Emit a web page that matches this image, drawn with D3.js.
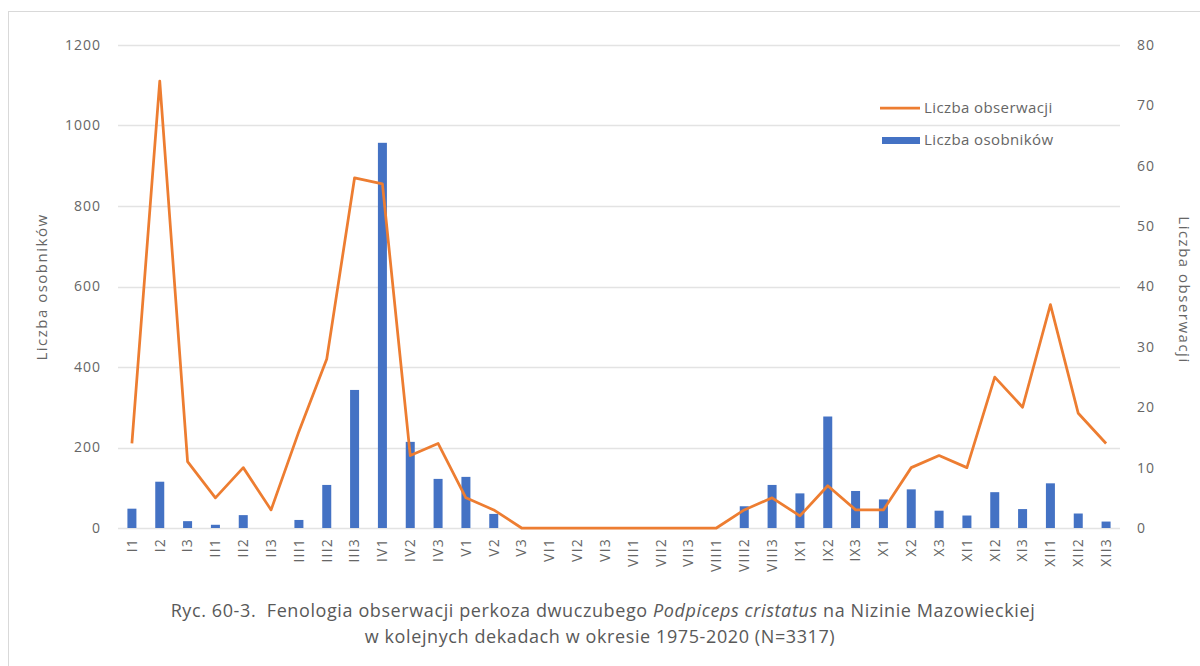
<!DOCTYPE html>
<html lang="pl">
<head>
  <meta charset="utf-8">
  <title>Fenologia perkoza dwuczubego</title>
  <script src="https://d3js.org/d3.v7.min.js"></script>
  <style>
    body { margin: 0; background: #fff; }
    text { font-family: "Open Sans", "Noto Sans", sans-serif; fill: #666; }
  </style>
</head>
<body>
<script>
// dekady miesiecy
var dekady = ['I1','I2','I3','II1','II2','II3','III1','III2','III3','IV1','IV2','IV3',
  'V1','V2','V3','VI1','VI2','VI3','VII1','VII2','VII3','VIII1','VIII2','VIII3',
  'IX1','IX2','IX3','X1','X2','X3','XI1','XI2','XI3','XII1','XII2','XII3'];

// liczba osobnikow (slupki, lewa os)
var osobniki = [48,115,17,8,32,0,20,107,343,957,214,122,
  127,35,0,0,0,0,0,0,0,0,54,107,
  86,277,92,71,96,43,31,89,47,111,36,16];

// liczba obserwacji (linia, prawa os)
var obserwacje = [14,74,11,5,10,3,16,28,58,57,12,14,
  5,3,0,0,0,0,0,0,0,0,3,5,
  2,7,3,3,10,12,10,25,20,37,19,14];

var leftTicks = [0,200,400,600,800,1000,1200];
var rightTicks = [0,10,20,30,40,50,60,70,80];

var W = 1200, H = 666;
// obszar wykresu
var pLeft = 118, pRight = 1120, pTop = 45, pBottom = 528;

var svg = d3.select('body').append('svg')
  .attr('width', W)
  .attr('height', H);

// ramka wykresu
svg.append('rect')
  .attr('x', 8.5).attr('y', 11.5)
  .attr('width', W + 10).attr('height', H + 10)
  .attr('fill', 'none')
  .attr('stroke', '#d9d9d9');

var x = d3.scaleBand().domain(dekady).range([pLeft, pRight]);
var yL = d3.scaleLinear().domain([0, 1200]).range([pBottom, pTop]);
var yR = d3.scaleLinear().domain([0, 80]).range([pBottom, pTop]);

// linie siatki
svg.selectAll('.grid')
  .data(leftTicks)
  .enter()
  .append('line')
  .attr('x1', pLeft).attr('x2', pRight)
  .attr('y1', function(d) { return Math.round(yL(d)) + 0.5; })
  .attr('y2', function(d) { return Math.round(yL(d)) + 0.5; })
  .attr('stroke', '#e3e3e3')
  .attr('stroke-width', 1.5);

// osie
var axL = svg.append('g')
  .attr('transform', 'translate(' + (pLeft - 17) + ',0)')
  .call(d3.axisLeft(yL).tickValues(leftTicks).tickFormat(d3.format('d')).tickSize(0).tickPadding(0));
var axR = svg.append('g')
  .attr('transform', 'translate(' + (pRight + 17) + ',0)')
  .call(d3.axisRight(yR).tickValues(rightTicks).tickFormat(d3.format('d')).tickSize(0).tickPadding(0));
var axX = svg.append('g')
  .attr('transform', 'translate(0,' + (pBottom + 10) + ')')
  .call(d3.axisBottom(x).tickSize(0).tickPadding(0));

[axL, axR, axX].forEach(function(a) {
  a.select('.domain').remove();
  a.selectAll('text')
    .style('font-family', '"Open Sans", sans-serif')
    .style('font-size', '14px')
    .style('letter-spacing', '1px')
    .attr('fill', '#6e6e6e');
});

axX.selectAll('text')
  .style('letter-spacing', '1.2px')
  .attr('transform', 'rotate(-90)')
  .attr('text-anchor', 'end')
  .attr('x', 0)
  .attr('y', 0)
  .attr('dy', '0.35em');

// slupki
svg.selectAll('.bar')
  .data(osobniki)
  .enter()
  .append('rect')
  .attr('x', function(d, i) { return x(dekady[i]) + x.bandwidth() / 2 - 4.5; })
  .attr('y', function(d) { return yL(d); })
  .attr('width', 9)
  .attr('height', function(d) { return pBottom - yL(d); })
  .attr('fill', '#4472c4');

// linia
var line = d3.line()
  .x(function(d, i) { return x(dekady[i]) + x.bandwidth() / 2; })
  .y(function(d) { return yR(d); });

svg.append('path')
  .datum(obserwacje)
  .attr('d', line)
  .attr('fill', 'none')
  .attr('stroke', '#ed7d31')
  .attr('stroke-width', 2.75)
  .attr('stroke-linejoin', 'round');

// tytuly osi
svg.append('text')
  .attr('transform', 'translate(42,287) rotate(-90)')
  .attr('text-anchor', 'middle')
  .attr('dy', '0.35em')
  .style('font-size', '15px')
  .style('letter-spacing', '1.5px')
  .text('Liczba osobników');

svg.append('text')
  .attr('transform', 'translate(1184,290) rotate(90)')
  .attr('text-anchor', 'middle')
  .attr('dy', '0.35em')
  .style('font-size', '15px')
  .style('letter-spacing', '1.5px')
  .text('Liczba obserwacji');

// legenda
var leg = svg.append('g');
leg.append('line')
  .attr('x1', 880).attr('x2', 920)
  .attr('y1', 108).attr('y2', 108)
  .attr('stroke', '#ed7d31')
  .attr('stroke-width', 2.75);
leg.append('text')
  .attr('x', 924).attr('y', 108)
  .attr('dy', '0.35em')
  .style('font-size', '15px')
  .style('letter-spacing', '0.4px')
  .text('Liczba obserwacji');
leg.append('rect')
  .attr('x', 882).attr('y', 137)
  .attr('width', 38).attr('height', 7)
  .attr('fill', '#4472c4');
leg.append('text')
  .attr('x', 924).attr('y', 140)
  .attr('dy', '0.35em')
  .style('font-size', '15px')
  .style('letter-spacing', '0.4px')
  .text('Liczba osobników');

// podpis
var cap1 = svg.append('text')
  .attr('x', 603).attr('y', 611)
  .attr('text-anchor', 'middle')
  .attr('dy', '0.35em')
  .style('font-size', '18px')
  .style('letter-spacing', '0.6px')
  .style('fill', '#595959');
cap1.append('tspan').text('Ryc. 60-3.\u00a0 Fenologia obserwacji perkoza dwuczubego ');
cap1.append('tspan').style('font-style', 'italic').text('Podpiceps cristatus');
cap1.append('tspan').text(' na Nizinie Mazowieckiej');

svg.append('text')
  .attr('x', 600).attr('y', 637)
  .attr('text-anchor', 'middle')
  .attr('dy', '0.35em')
  .style('font-size', '18px')
  .style('letter-spacing', '0.6px')
  .style('fill', '#595959')
  .text('w kolejnych dekadach w okresie 1975-2020 (N=3317)');
</script>
</body>
</html>
